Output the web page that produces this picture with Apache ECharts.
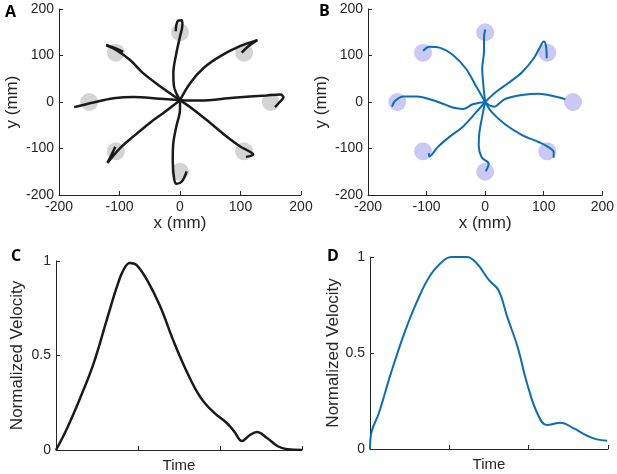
<!DOCTYPE html>
<html>
<head>
<meta charset="utf-8">
<script src="https://cdn.jsdelivr.net/npm/echarts@6/dist/echarts.min.js"></script>
<style>
  html, body { margin: 0; padding: 0; background: #fff; }
  #main { width: 617px; height: 474px; }
</style>
</head>
<body>
<div id="main"></div>
<script>
// target centres (mm)
var targets = [[150, 0], [106, 106], [0, 150], [-106, 106], [-150, 0], [-106, -106], [0, -150], [106, -106]];

// panel A hand paths, one per target
var trajA = [
    [[0, 4], [33, 3], [88, 9], [143, 14], [166, 16], [171, 10], [164, -1], [157, -11]],
    [[0, 4], [17, 41], [39, 73], [66, 98], [99, 120], [128, 133], [113, 120], [102, 106]],
    [[0, 4], [-10, 34], [-11, 62], [-6, 105], [0, 141], [4, 166], [3, 176], [-3, 175], [-6, 166], [-7, 152]],
    [[0, 4], [-33, 34], [-61, 62], [-83, 91], [-107, 113], [-122, 122], [-107, 116], [-94, 108]],
    [[0, 4], [-33, 7], [-77, 11], [-110, 8], [-143, -1], [-175, -11]],
    [[0, 4], [-28, -24], [-50, -45], [-77, -74], [-99, -99], [-120, -131], [-113, -113], [-107, -96]],
    [[0, 4], [0, -16], [-6, -52], [-11, -88], [-12, -124], [-10, -163], [-6, -176], [3, -171], [11, -149]],
    [[0, 4], [22, -16], [50, -45], [77, -74], [99, -95], [117, -108], [121, -113], [109, -118]]
];

// panel B model paths
var trajB = [
    [[0, 0], [8, -8], [16, -10], [25, -2], [35, 7], [63, 15], [91, 18], [119, 12], [137, 6]],
    [[0, 0], [18, 21], [41, 42], [63, 64], [83, 94], [94, 119], [100, 130], [104, 119], [105, 94]],
    [[0, 0], [-3, 35], [-5, 72], [-2, 108], [-2, 138], [0, 156]],
    [[0, 0], [-16, 35], [-33, 72], [-55, 101], [-78, 117], [-95, 119], [-106, 110]],
    [[0, 0], [-21, -5], [-38, -15], [-55, -12], [-78, -1], [-117, 12], [-140, 12], [-154, 2], [-159, -10]],
    [[0, 0], [-16, -23], [-38, -53], [-61, -75], [-81, -97], [-95, -117], [-96, -110]],
    [[0, 0], [-5, -31], [-10, -67], [-11, -93], [-6, -119], [6, -133], [1, -149]],
    [[0, 0], [12, -23], [35, -49], [63, -71], [91, -86], [108, -97], [117, -108], [117, -120]]
];

// velocity profiles [time, normalized velocity]
var velC = [[0, 0], [0.13, 0.11], [0.29, 0.27], [0.46, 0.46], [0.62, 0.69], [0.74, 0.86], [0.82, 0.95],
    [0.9, 0.99], [0.98, 0.98], [1.11, 0.9], [1.27, 0.76], [1.43, 0.58], [1.6, 0.41], [1.76, 0.28],
    [1.92, 0.2], [2.08, 0.144], [2.17, 0.1], [2.27, 0.047], [2.35, 0.074], [2.45, 0.095], [2.57, 0.065],
    [2.7, 0.021], [2.82, 0.004], [3, 0]];
var velD = [[0, 0], [0.02, 0.09], [0.11, 0.185], [0.26, 0.39], [0.43, 0.6], [0.6, 0.775], [0.76, 0.905],
    [0.93, 0.983], [1.02, 1], [1.22, 1], [1.35, 0.965], [1.5, 0.879], [1.62, 0.827], [1.73, 0.688],
    [1.86, 0.532], [1.98, 0.341], [2.11, 0.185], [2.23, 0.125], [2.4, 0.137], [2.57, 0.107],
    [2.74, 0.068], [2.86, 0.05], [2.99, 0.043]];

var posTicks = [-200, -100, 0, 100, 200];
var velTicks = [0, 0.5, 1];

var chart = echarts.init(document.getElementById('main'));

var ink = '#262626';
var font = 'Liberation Sans';

function axisBase(extra) {
    var o = {
        type: 'value',
        axisLine: {show: true, onZero: false, lineStyle: {color: ink, width: 1}},
        axisTick: {show: true, inside: true, length: 4, lineStyle: {color: ink}},
        axisLabel: {color: ink, fontSize: 14, fontFamily: font, margin: 5},
        splitLine: {show: false},
        nameLocation: 'middle',
        nameTextStyle: {color: ink, fontSize: 17, fontFamily: font}
    };
    for (var k in extra) o[k] = extra[k];
    return o;
}

var series = [];
targets.forEach(function (t) {
    series.push({type: 'scatter', xAxisIndex: 0, yAxisIndex: 0, data: [t], symbolSize: 18,
        itemStyle: {color: '#d4d4d4', opacity: 1}, silent: true, z: 1});
    series.push({type: 'scatter', xAxisIndex: 1, yAxisIndex: 1, data: [t], symbolSize: 18,
        itemStyle: {color: '#c9c9f4', opacity: 1}, silent: true, z: 1});
});
trajA.forEach(function (p) {
    series.push({type: 'line', xAxisIndex: 0, yAxisIndex: 0, data: p, smooth: 0.35, showSymbol: false,
        lineStyle: {color: '#1a1a1a', width: 2.5}, z: 3});
});
trajB.forEach(function (p) {
    series.push({type: 'line', xAxisIndex: 1, yAxisIndex: 1, data: p, smooth: 0.35, showSymbol: false,
        lineStyle: {color: '#0b6db7', width: 2}, z: 3});
});
series.push({type: 'line', xAxisIndex: 2, yAxisIndex: 2, data: velC, smooth: 0.4, showSymbol: false,
    lineStyle: {color: '#1a1a1a', width: 2.5}});
series.push({type: 'line', xAxisIndex: 3, yAxisIndex: 3, data: velD, smooth: 0.4, showSymbol: false,
    lineStyle: {color: '#0b6db7', width: 2}});

function panelTitle(txt, x, y) {
    return {text: txt, left: x, top: y, padding: 0,
        textStyle: {fontSize: 16, fontWeight: 'bold', fontFamily: 'Open Sans', color: '#000'}};
}

chart.setOption({
    animation: false,
    title: [panelTitle('A', 5, 4), panelTitle('B', 319, 3), panelTitle('C', 11, 248), panelTitle('D', 327, 248)],
    grid: [
        {left: 59, top: 9, width: 242, height: 186},
        {left: 368, top: 9, width: 237, height: 186},
        {left: 56, top: 261, width: 246, height: 190},
        {left: 370, top: 257, width: 238, height: 192}
    ],
    xAxis: [
        axisBase({gridIndex: 0, min: posTicks[0], max: posTicks[4], interval: 100, name: 'x (mm)', nameGap: 20}),
        axisBase({gridIndex: 1, min: posTicks[0], max: posTicks[4], interval: 100, name: 'x (mm)', nameGap: 20}),
        axisBase({gridIndex: 2, min: 0, max: 3, interval: 1, name: 'Time', nameGap: 8,
            axisLabel: {show: false}, nameTextStyle: {color: ink, fontSize: 15, fontFamily: font}}),
        axisBase({gridIndex: 3, min: 0, max: 3, interval: 1, name: 'Time', nameGap: 8,
            axisLabel: {show: false}, nameTextStyle: {color: ink, fontSize: 15, fontFamily: font}})
    ],
    yAxis: [
        axisBase({gridIndex: 0, min: posTicks[0], max: posTicks[4], interval: 100, name: 'y (mm)', nameGap: 38}),
        axisBase({gridIndex: 1, min: posTicks[0], max: posTicks[4], interval: 100, name: 'y (mm)', nameGap: 38}),
        axisBase({gridIndex: 2, min: velTicks[0], max: velTicks[2], interval: 0.5, name: 'Normalized Velocity', nameGap: 30}),
        axisBase({gridIndex: 3, min: velTicks[0], max: velTicks[2], interval: 0.5, name: 'Normalized Velocity', nameGap: 28})
    ],
    series: series
});
</script>
</body>
</html>
